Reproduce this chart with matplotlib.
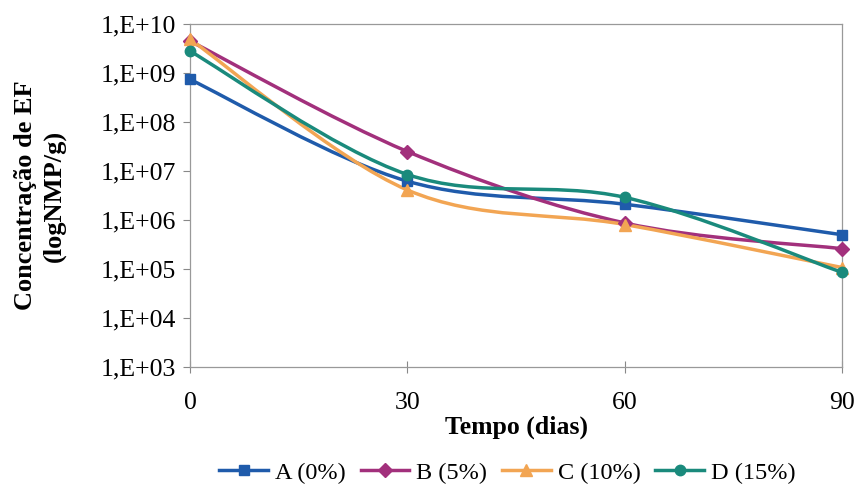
import numpy as np
import matplotlib
matplotlib.use("Agg")
import matplotlib.pyplot as plt
from matplotlib.path import Path
from matplotlib.patches import PathPatch
from matplotlib.lines import Line2D

days = [0, 30, 60, 90]
series_names = ["A (0%)", "B (5%)", "C (10%)", "D (15%)"]
A = [7.4e8, 6.2e6, 2.1e6, 5.0e5]
B = [4.5e9, 2.5e7, 8.7e5, 2.6e5]
C = [4.9e9, 4.1e6, 8.1e5, 1.07e5]
D = [2.8e9, 8.5e6, 2.9e6, 8.5e4]
ytick_vals = [1e3, 1e4, 1e5, 1e6, 1e7, 1e8, 1e9, 1e10]
ytick_labels = ["1,E+03", "1,E+04", "1,E+05", "1,E+06", "1,E+07", "1,E+08", "1,E+09", "1,E+10"]
xtick_vals = [0, 30, 60, 90]

colors = ["#1f5bab", "#a2307c", "#f2a553", "#1a8a7c"]
markers = ["s", "D", "^", "o"]
msizes = [7.5, 7, 8.5, 7.5]

plt.rcParams['font.family'] = ['Liberation Serif', 'DejaVu Serif']

fig = plt.figure(figsize=(8.56, 4.91), dpi=100)
ax = fig.add_axes([0.222, 0.2525, 0.762, 0.6985])
ax.set_yscale('log')
ax.set_ylim(1e3, 1e10)
ax.set_xlim(0, 90)


def smooth_path(xs, ys):
    # Excel-like smoothed line: cubic Bezier segments computed in (x, log10 y)
    ly = np.log10(ys)
    xs = np.asarray(xs, float)
    sx = 652.0 / 90.0
    sy = 343.0 / 7.0
    P = np.column_stack([xs * sx, ly * sy])
    n = len(P)
    verts = [P[0]]
    codes = [Path.MOVETO]
    for i in range(n - 1):
        p0 = P[i - 1] if i > 0 else P[i]
        p1 = P[i]
        p2 = P[i + 1]
        p3 = P[i + 2] if i + 2 < n else P[i + 1]
        c1 = p1 + (p2 - p0) / 6.0
        c2 = p2 - (p3 - p1) / 6.0
        verts += [c1, c2, p2]
        codes += [Path.CURVE4] * 3
    V = np.array(verts)
    V[:, 0] = V[:, 0] / sx
    V[:, 1] = 10 ** (V[:, 1] / sy)
    return Path(V, codes)


data = [A, B, C, D]
handles = []
for vals, name, col, mk, ms in zip(data, series_names, colors, markers, msizes):
    patch = PathPatch(smooth_path(days, vals), facecolor='none', edgecolor=col,
                      lw=2.5, zorder=3, clip_on=False)
    ax.add_patch(patch)
    ax.plot(days, vals, linestyle='none', marker=mk, markersize=ms, color=col,
            zorder=4, clip_on=False)
    handles.append(Line2D([0], [0], color=col, lw=2.5, marker=mk, markersize=ms))

ax.set_yticks(ytick_vals)
ax.set_yticklabels(ytick_labels)
ax.minorticks_off()
ax.set_xticks(xtick_vals)
ax.set_xticklabels([str(v) for v in xtick_vals])
ax.tick_params(axis='y', direction='out', length=5, width=0.8, color='#888888',
               labelsize=18.5, pad=5)
ax.tick_params(axis='x', direction='inout', length=8, width=0.8, color='#888888',
               labelsize=18.5, pad=14)
for sp in ax.spines.values():
    sp.set_color('#999999')
    sp.set_linewidth(0.9)

ax.set_xlabel("Tempo (dias)", fontsize=18.5, fontweight='bold', labelpad=1)
ax.set_ylabel("Concentração de EF\n(logNMP/g)", fontsize=19, fontweight='bold',
              labelpad=25, linespacing=1.3)

fig.legend(handles, series_names, loc='lower center', ncol=4, frameon=False,
           fontsize=17.5, bbox_to_anchor=(0.593, -0.025), handlelength=2.0,
           handletextpad=0.3, columnspacing=0.6, borderpad=0.3)

fig.savefig("out.png", dpi=100)
